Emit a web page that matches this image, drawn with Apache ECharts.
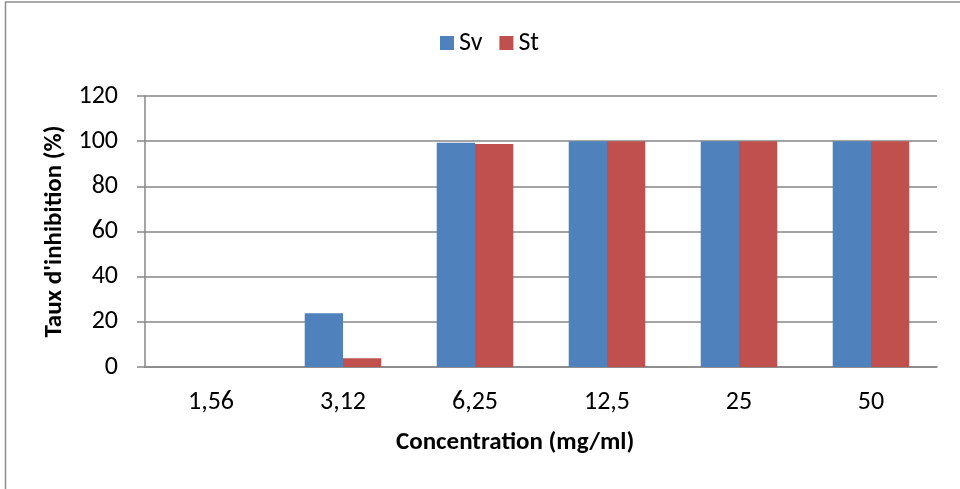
<!DOCTYPE html>
<html>
<head>
<meta charset="utf-8">
<script src="https://cdn.jsdelivr.net/npm/echarts@6/dist/echarts.min.js"></script>
<style>html,body{margin:0;padding:0;background:#fff}#c{width:960px;height:489px}</style>
</head>
<body>
<div id="c"></div>
<script>
const categories = ['1,56', '3,12', '6,25', '12,5', '25', '50'];
const sv = [0, 23.8, 99.3, 100, 100, 100];
const st = [0, 3.9, 98.8, 100, 100, 100];
const yTicks = { min: 0, max: 120, interval: 20 };

const FONT = 'Carlito, Lato, sans-serif';
const chart = echarts.init(document.getElementById('c'));
chart.setOption({
  animation: false,
  textStyle: { fontFamily: FONT },
  graphic: [
    { type: 'rect', shape: { x: 5.5, y: 2, width: 1200, height: 800 }, style: { fill: 'none', stroke: '#8c8c8c', lineWidth: 1.5 }, z: -1 },
    { type: 'text', left: 396, top: 430, style: { text: 'Concentration (mg/ml)', font: 'bold 25px ' + FONT, fill: '#000' } }
  ],
  legend: {
    left: 435, top: 25,
    itemWidth: 14, itemHeight: 14, itemGap: 17,
    textStyle: { fontSize: 26, color: '#000', fontFamily: FONT },
    data: [{ name: 'Sv', icon: 'rect' }, { name: 'St', icon: 'rect' }]
  },
  grid: { left: 145, right: 23, top: 96, bottom: 122 },
  xAxis: {
    type: 'category', data: categories,
    axisLine: { lineStyle: { color: '#868686', width: 1.5 } },
    axisTick: { length: 7, lineStyle: { color: '#868686', width: 1.5 } },
    axisLabel: { fontSize: 26, color: '#000', margin: 22, fontFamily: FONT }
  },
  yAxis: {
    type: 'value', min: yTicks.min, max: yTicks.max, interval: yTicks.interval,
    name: "Taux d'inhibition (%)", nameLocation: 'middle', nameGap: 74,
    nameTextStyle: { fontSize: 25, fontWeight: 'bold', color: '#000', fontFamily: FONT },
    axisLine: { show: true, lineStyle: { color: '#868686', width: 1.5 } },
    axisTick: { show: true, length: 8, lineStyle: { color: '#868686', width: 1.5 } },
    axisLabel: { fontSize: 26, color: '#000', margin: 27, fontFamily: FONT },
    splitLine: { lineStyle: { color: '#868686', width: 1.5 } }
  },
  series: [
    { name: 'Sv', type: 'bar', data: sv, barGap: '0%', barCategoryGap: '42%', itemStyle: { color: '#4F81BD' } },
    { name: 'St', type: 'bar', data: st, barGap: '0%', barCategoryGap: '42%', itemStyle: { color: '#C0504D' } }
  ]
});
</script>
</body>
</html>
